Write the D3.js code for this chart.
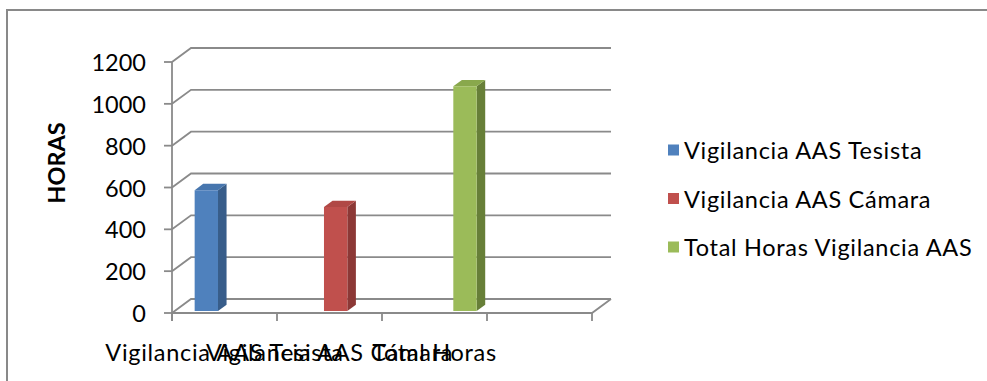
<!DOCTYPE html>
<html>
<head>
<meta charset="utf-8">
<script src="https://cdn.jsdelivr.net/npm/d3@7"></script>
<style>
  html, body { margin: 0; padding: 0; background: #fff; }
  svg { display: block; }
  text { font-family: Lato, "Liberation Sans", sans-serif; fill: #000; }
</style>
</head>
<body>
<svg id="chart" width="987" height="381"></svg>
<script>
// ---- data ----
const categories = ["Vigilancia AAS Tesista", "Vigilancia AAS Cámara", "Total Horas", ""];
const seriesNames = ["Vigilancia AAS Tesista", "Vigilancia AAS Cámara", "Total Horas Vigilancia AAS"];
const tesistaValues = [578, null, null, null];
const camaraValues = [null, 497, null, null];
const totalValues = [null, null, 1075, null];
const yTicks = [0, 200, 400, 600, 800, 1000, 1200];
const yTitle = "HORAS";

const seriesValues = [tesistaValues, camaraValues, totalValues];
const colors = [
  { front: "#4F81BD", side: "#385D8A", top: "#4776AE" },
  { front: "#C0504D", side: "#8C3836", top: "#B04845" },
  { front: "#9BBB59", side: "#677F38", top: "#89A84C" }
];

const svg = d3.select("#chart");
const W = 987, H = 381;
svg.append("rect").attr("width", W).attr("height", H).attr("fill", "#fff");

// outer frame (extends past the picture on the right and bottom)
svg.append("rect").attr("x", 7).attr("y", 10).attr("width", 1000).attr("height", 400)
  .attr("fill", "none").attr("stroke", "#898989").attr("stroke-width", 2);

// ---- scales ----
const y = d3.scaleLinear().domain([0, 1200]).range([313, 62]);
const x = d3.scaleBand().domain(d3.range(categories.length)).range([172, 592]).padding(0);
const xs = d3.scaleBand().domain(d3.range(seriesNames.length)).range([20, 92]).paddingInner(0.04);
const DX = 19, DY = -14; // depth offset of the back wall
const P = (px, v, t) => [px + t * DX, y(v) + t * DY];

const grid = svg.append("g").attr("stroke", "#8a8a8a").attr("stroke-width", 1.8).attr("fill", "none");
const x0 = x.range()[0], x1 = x.range()[1];

// back-wall gridlines + left side-wall diagonals + ticks
yTicks.forEach(v => {
  const a = P(x0, v, 0), b = P(x0, v, 1), c = P(x1, v, 1);
  grid.append("path").attr("d", `M${a[0]},${a[1]}L${b[0]},${b[1]}L${c[0]},${c[1]}`);
  grid.append("line").attr("x1", x0 - 8).attr("x2", x0).attr("y1", a[1]).attr("y2", a[1]);
});
// front vertical axis
grid.append("line").attr("x1", x0).attr("x2", x0).attr("y1", y(1200)).attr("y2", y(0) + 8);
// floor front edge and right edge
{
  const a = P(x0, 0, 0), b = P(x1, 0, 0), c = P(x1, 0, 1);
  grid.append("path").attr("d", `M${a[0]},${a[1]}L${b[0]},${b[1]}L${c[0]},${c[1]}`);
}
// category ticks
const bounds = categories.map((d, i) => x(i)).concat([x1]);
bounds.forEach(bx => {
  grid.append("line").attr("x1", bx).attr("x2", bx).attr("y1", y(0)).attr("y2", y(0) + 8);
});

// ---- bars ----
const t0 = 0.14, t1 = 0.59;
const barsG = svg.append("g");
seriesValues.forEach((vals, s) => {
  vals.forEach((v, ci) => {
    if (v == null) return;
    const left = x(ci) + xs(s), right = left + xs.bandwidth();
    const fl0 = P(left, 0, t0), fr0 = P(right, 0, t0), flT = P(left, v, t0), frT = P(right, v, t0);
    const br0 = P(right, 0, t1), blT = P(left, v, t1), brT = P(right, v, t1);
    const col = colors[s];
    barsG.append("path").attr("d", `M${fr0}L${br0}L${brT}L${frT}Z`).attr("fill", col.side);
    barsG.append("path").attr("d", `M${flT}L${frT}L${brT}L${blT}Z`).attr("fill", col.top);
    barsG.append("path").attr("d", `M${fl0}L${fr0}L${frT}L${flT}Z`).attr("fill", col.front);
  });
});

// ---- y labels ----
const FS = 23.5, LS = 0.7;
svg.append("g").selectAll("text").data(yTicks).join("text")
  .attr("x", 146).attr("y", d => y(d))
  .attr("text-anchor", "end").attr("dominant-baseline", "central")
  .attr("font-size", FS).text(d => d);

svg.append("text")
  .attr("transform", "translate(56,163) rotate(-90)")
  .attr("text-anchor", "middle").attr("dominant-baseline", "central")
  .attr("font-size", FS).attr("font-weight", "bold").text(yTitle);

// ---- x labels ----
svg.append("g").selectAll("text").data(categories).join("text")
  .attr("x", (d, i) => x(i) + x.bandwidth() / 2).attr("y", 352)
  .attr("text-anchor", "middle").attr("dominant-baseline", "central")
  .attr("font-size", FS).attr("letter-spacing", LS).text(d => d);

// ---- legend ----
const legend = svg.append("g");
seriesNames.forEach((name, i) => {
  const cy = 150 + i * 48.5;
  legend.append("rect").attr("x", 668).attr("y", cy - 5.5).attr("width", 11).attr("height", 11)
    .attr("fill", colors[i].front);
  legend.append("text").attr("x", 684).attr("y", cy)
    .attr("dominant-baseline", "central").attr("font-size", FS).attr("letter-spacing", LS).text(name);
});
</script>
</body>
</html>
